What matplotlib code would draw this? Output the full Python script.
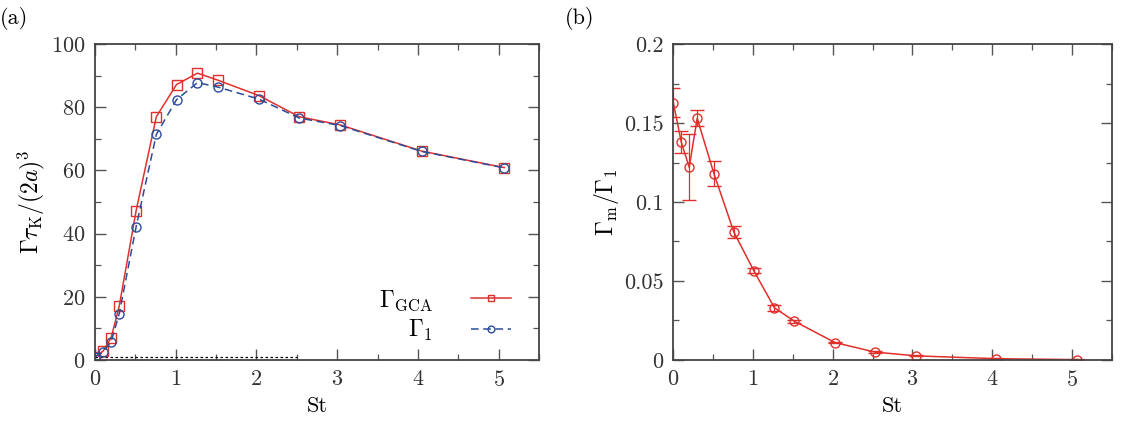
import matplotlib
matplotlib.use("Agg")
import matplotlib.pyplot as plt
from matplotlib.ticker import MultipleLocator

plt.rcParams["font.family"] = ["cmr10", "DejaVu Serif"]
plt.rcParams["mathtext.fontset"] = "cm"
plt.rcParams["axes.formatter.use_mathtext"] = True
plt.rcParams["font.size"] = 16

# data
st = [0.0, 0.1, 0.2, 0.3, 0.51, 0.76, 1.01, 1.27, 1.52, 2.03, 2.53, 3.04, 4.05, 5.07]
gamma_gca = [1.0, 2.8, 7.0, 17.0, 47.3, 77.0, 87.2, 90.8, 88.6, 83.7, 77.0, 74.4, 66.1, 60.9]
gamma_1 = [1.0, 2.5, 5.8, 14.6, 42.2, 71.4, 82.4, 87.8, 86.4, 82.6, 76.6, 74.2, 66.0, 60.8]
ratio = [0.163, 0.138, 0.122, 0.153, 0.118, 0.081, 0.0565, 0.033, 0.0245, 0.011, 0.005, 0.0026, 0.0008, 0.0002]
ratio_err = [0.009, 0.007, 0.021, 0.005, 0.008, 0.004, 0.0015, 0.0018, 0.001, 0.0005, 0.0004, 0.0003, 0.0002, 0.0001]
ref_x = [0.0, 2.5]
ref_y = [1.0, 1.0]

red = "#e0302c"
blue = "#2b4d9c"

fig = plt.figure(figsize=(11.24, 4.28), dpi=100)
ax1 = fig.add_axes([0.0845, 0.159, 0.395, 0.738])
ax2 = fig.add_axes([0.599, 0.159, 0.390, 0.738])

# --- panel (a) ---
ax1.plot(ref_x, ref_y, color="black", ls=(0, (2, 2)), lw=0.9)
ax1.plot(st, gamma_gca, color=red, lw=1.1, marker="s", ms=6.5, mfc="none",
         mec=red, mew=1.0, label=r"$\Gamma_{\rm GCA}$")
ax1.plot(st, gamma_1, color=blue, lw=1.1, ls=(0, (5, 3)), marker="o", ms=6.5,
         mfc="none", mec=blue, mew=1.0, label=r"$\Gamma_1$")
ax1.set_xlim(0, 5.5)
ax1.set_ylim(0, 100)
ax1.xaxis.set_major_locator(MultipleLocator(1))
ax1.xaxis.set_minor_locator(MultipleLocator(0.5))
ax1.yaxis.set_major_locator(MultipleLocator(20))
ax1.yaxis.set_minor_locator(MultipleLocator(10))
ax1.set_xlabel("St", labelpad=5)
ax1.set_ylabel(r"$\Gamma\tau_{\rm K}/(2a)^3$", fontsize=17, labelpad=3)
leg = ax1.legend(loc="lower right", markerfirst=False, frameon=False,
                 fontsize=17, handlelength=1.7, handletextpad=1.6,
                 labelspacing=0.25, markerscale=0.75,
                 bbox_to_anchor=(0.985, -0.015))
for t in leg.get_texts():
    t.set_ha("right")
fig.text(0.0, 0.945, "(a)", fontsize=16)

# --- panel (b) ---
ax2.errorbar(st, ratio, yerr=ratio_err, color=red, lw=1.1, marker="o", ms=6.5,
             mfc="none", mec=red, mew=1.0, capsize=5, elinewidth=0.9,
             capthick=0.9)
ax2.set_xlim(0, 5.5)
ax2.set_ylim(0, 0.2)
ax2.xaxis.set_major_locator(MultipleLocator(1))
ax2.xaxis.set_minor_locator(MultipleLocator(0.5))
ax2.yaxis.set_minor_locator(MultipleLocator(0.025))
ax2.set_yticks([0, 0.05, 0.1, 0.15, 0.2])
ax2.set_yticklabels(["0", "0.05", "0.1", "0.15", "0.2"])
ax2.set_xlabel("St", labelpad=5)
ax2.set_ylabel(r"$\Gamma_{\rm m}/\Gamma_1$", fontsize=17, labelpad=2)
fig.text(0.503, 0.945, "(b)", fontsize=16)

for ax in (ax1, ax2):
    for s in ax.spines.values():
        s.set_color("#444444")
        s.set_linewidth(1.3)
    ax.tick_params(which="both", direction="in", top=True, right=True,
                   color="#555555", pad=7)
    ax.tick_params(which="major", length=8, width=1.0)
    ax.tick_params(which="minor", length=4, width=0.9)
    for lab in ax.get_xticklabels() + ax.get_yticklabels():
        lab.set_color("#333333")

fig.savefig("out.png", dpi=100)
